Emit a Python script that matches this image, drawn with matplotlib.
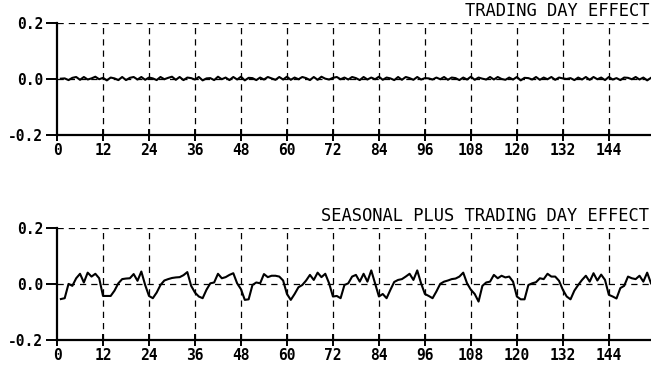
import matplotlib
matplotlib.use("Agg")
import matplotlib.pyplot as plt

# Meses 1..155
months = list(range(1, 156))

# Efecto dia de comercio (x 0.001)
tradingDay = [
    0, 1, -5, 3, 6, -4, 6, -3, 1, 7, -2, 3,
    -6, 4, 1, -5, 6, -5, 3, 6, -3, 6, -4, 4,
    1, -5, 6, -2, 3, 7, -4, 6, -5, 4, 2, -3,
    6, -6, 1, 2, -5, 7, -2, 4, -5, 6, -3, 7,
    -6, 3, 2, -5, 4, -3, 6, 1, -4, 6, -3, 7,
    -4, 4, -2, 6, 2, -5, 6, -4, 7, 0, -3, 3,
    6, -2, 4, -3, 6, 2, -5, 6, -3, 4, -2, 7,
    -4, 4, 1, -5, 6, -4, 6, 2, -4, 6, -3, 2,
    1, -3, 4, -2, 6, -4, 4, 2, -5, 4, -3, 7,
    -4, 4, 0, -3, 6, -3, 6, -1, -4, 4, -3, 6,
    -6, 3, 2, -3, 6, -4, 4, -2, 6, -4, 4, 1,
    -1, 2, -5, 4, -3, 6, -4, 6, -2, 4, -5, 6,
    -3, 2, -5, 4, 3, -2, 6, -3, 4, -6, 3,
]
tradingDay = [v / 1000 for v in tradingDay]

# Efecto estacional mas dia de comercio
seasonal = [
    -0.054, -0.051, 0.000, -0.007, 0.020, 0.036, 0.005, 0.040, 0.026, 0.036, 0.020, -0.043,
    -0.043, -0.043, -0.024, 0.002, 0.017, 0.019, 0.020, 0.035, 0.011, 0.044, -0.004, -0.043,
    -0.051, -0.031, -0.004, 0.012, 0.017, 0.021, 0.023, 0.024, 0.031, 0.042, -0.007, -0.031,
    -0.045, -0.051, -0.021, 0.002, 0.005, 0.036, 0.020, 0.024, 0.032, 0.038, 0.002, -0.019,
    -0.057, -0.055, -0.004, 0.005, 0.002, 0.035, 0.024, 0.029, 0.029, 0.026, 0.012, -0.036,
    -0.057, -0.036, -0.012, -0.004, 0.012, 0.032, 0.014, 0.040, 0.024, 0.036, 0.002, -0.045,
    -0.043, -0.051, -0.004, 0.002, 0.026, 0.032, 0.008, 0.036, 0.008, 0.048, 0.002, -0.045,
    -0.036, -0.051, -0.021, 0.007, 0.014, 0.017, 0.026, 0.036, 0.014, 0.048, 0.002, -0.036,
    -0.043, -0.051, -0.027, 0.000, 0.008, 0.012, 0.017, 0.019, 0.026, 0.040, 0.002, -0.021,
    -0.036, -0.063, -0.007, 0.005, 0.008, 0.032, 0.020, 0.029, 0.023, 0.026, 0.008, -0.045,
    -0.055, -0.055, -0.004, 0.002, 0.006, 0.020, 0.017, 0.036, 0.026, 0.026, 0.011, -0.021,
    -0.045, -0.055, -0.024, -0.004, 0.014, 0.029, 0.008, 0.038, 0.012, 0.033, 0.014, -0.039,
    -0.045, -0.052, -0.015, -0.007, 0.026, 0.020, 0.017, 0.029, 0.008, 0.040, 0.002,
]

xTicks = list(range(0, 145, 12))
yTicks = [-0.2, 0.0, 0.2]
yLabels = ["-0.2", "0.0", "0.2"]
titles = ["TRADING DAY EFFECT", "SEASONAL PLUS TRADING DAY EFFECT"]

FONT = "DejaVu Sans Mono"


def styleAxis(ax, title):
    ax.set_xlim(0, 155)
    ax.set_ylim(-0.2, 0.2)
    for side in ["top", "right"]:
        ax.spines[side].set_visible(False)
    ax.spines["left"].set_linewidth(1.6)
    ax.spines["bottom"].set_linewidth(1.6)
    ax.set_xticks(xTicks)
    ax.set_xticklabels([str(t) for t in xTicks], fontfamily=FONT, fontsize=10.5, fontweight="bold")
    ax.set_yticks(yTicks)
    ax.set_yticklabels(yLabels, fontfamily=FONT, fontsize=10.5, fontweight="bold")
    ax.tick_params(axis="x", direction="inout", length=9, width=1.4, pad=1.5)
    ax.tick_params(axis="y", direction="out", length=8, width=1.4, pad=2)
    for t in xTicks[1:]:
        ax.axvline(t, color="black", linestyle=(0, (5, 4)), linewidth=0.9, zorder=1)
    for y in [0.0, 0.2]:
        ax.axhline(y, color="black", linestyle=(0, (5, 4)), linewidth=0.9, zorder=1)
    ax.text(0.997, 1.02, title, transform=ax.transAxes, ha="right", va="bottom",
            fontfamily=FONT, fontsize=12.3)


fig = plt.figure(figsize=(6.51, 3.70), dpi=100)
axTop = fig.add_axes([0.0876, 0.636, 0.9124, 0.3027])
axBottom = fig.add_axes([0.0876, 0.081, 0.9124, 0.3035])

axTop.plot(months, tradingDay, color="black", linewidth=1.5, zorder=3)
styleAxis(axTop, titles[0])

axBottom.plot(months, seasonal, color="black", linewidth=1.5, zorder=3)
styleAxis(axBottom, titles[1])

fig.savefig("out.png", dpi=100)
